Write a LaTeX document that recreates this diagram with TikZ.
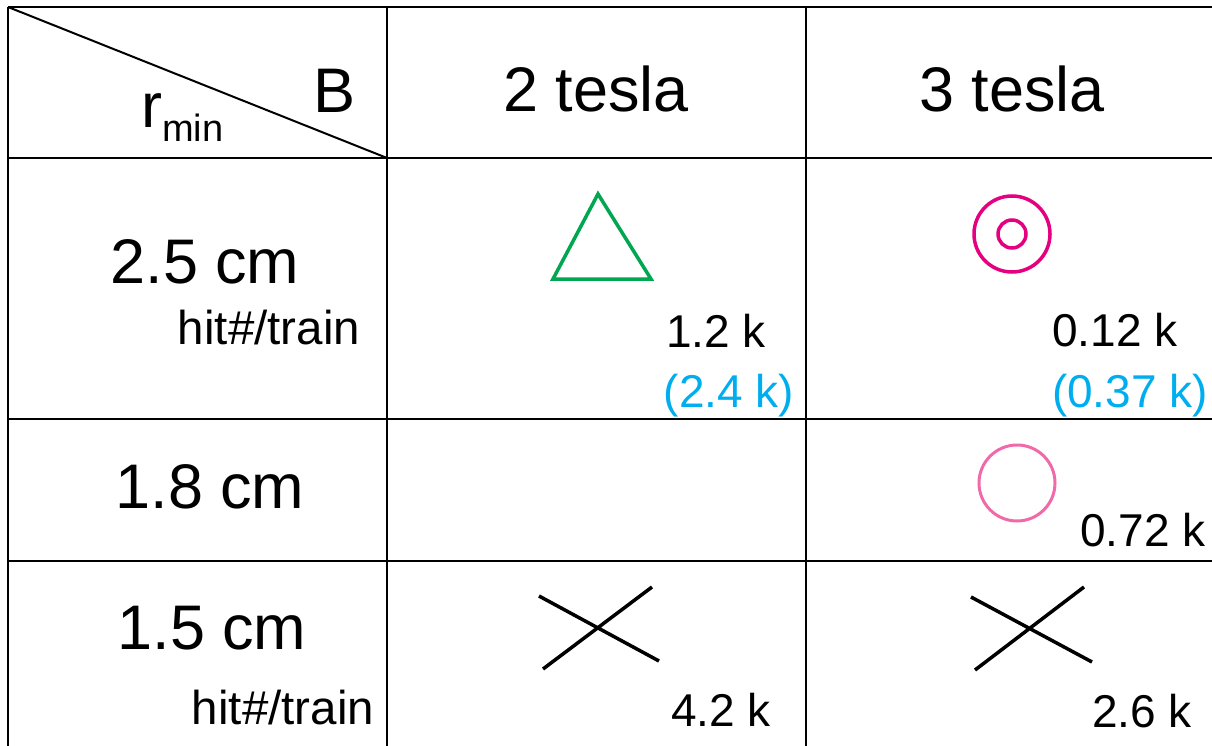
\documentclass[tikz,border=0pt]{standalone}
\usepackage{fontspec}
\setmainfont{Liberation Sans}
\usepackage{xcolor}
\usepackage{tikz}
\usetikzlibrary{
    positioning,
    calc
}
\definecolor{markgreen}{HTML}{00A650}
\definecolor{markmagenta}{HTML}{E4007F}
\definecolor{markpink}{HTML}{F06AAA}
\definecolor{numcyan}{HTML}{00AEEF}
\tikzset{
    gridline/.style={
        draw=black, line width=2.5pt
    },
    bigtext/.style={
        anchor=base, inner sep=0pt,
        font=\fontsize{63}{70}\selectfont
    },
    smalltext/.style={
        anchor=base, inner sep=0pt,
        font=\fontsize{46}{52}\selectfont
    },
    marker/.style={
        line width=3.5pt, line join=miter
    }
}

\begin{document}
\begin{tikzpicture}[
    x=1pt, y=-1pt,
    countlabel/.style={smalltext, text=black},
    altlabel/.style={smalltext, text=numcyan},
    hitlabel/.style={smalltext, font=\fontsize{47.5}{52}\selectfont}
]
    \useasboundingbox (0,0) rectangle (1212,746);

    % --- GRID ---
    \coordinate (tl) at (8,7);
    \coordinate (hdr) at (387,158);
    \draw[gridline] (8,7) -- (1212,7);
    \draw[gridline] (8,158) -- (1212,158);
    \draw[gridline] (8,419) -- (1212,419);
    \draw[gridline] (8,561) -- (1212,561);
    \draw[gridline] (8,7) -- (8,746);
    \draw[gridline] (387,7) -- (387,746);
    \draw[gridline] (806,7) -- (806,746);
    \draw[line width=2pt] (tl) -- (hdr);

    % --- HEADER ---
    \node[bigtext] (field) at (335,113) {B};
    \node[bigtext, anchor=base west] (radius) at (141,128)
        {r\raisebox{-14pt}{\fontsize{38}{42}\selectfont min}};
    \node[bigtext] (two_t) at (596,112) {2 tesla};
    \node[bigtext] (three_t) at (1012,112) {3 tesla};

    % --- ROW LABELS ---
    \node[bigtext] (r25) at (205,283) {2.5 cm};
    \node[hitlabel] (hits_a) at (269,344) {hit\#/train};
    \node[bigtext] (r18) at (210,508) {1.8 cm};
    \node[bigtext] (r15) at (212,649) {1.5 cm};
    \node[hitlabel] (hits_b) at (283,724) {hit\#/train};

    % --- MARKERS ---
    \draw[marker, draw=markgreen] (553,279) -- (651,279) -- (598,194) -- cycle;
    \draw[marker, draw=markmagenta] (1012,234) circle (38) (1012,234) circle (14);
    \draw[marker, draw=markpink, line width=3pt] (1017,483) circle (38);
    \draw[marker] (539,596) -- (659,661) (543,669) -- (652,587);
    \draw[marker] (971,597) -- (1092,662) (975,670) -- (1084,587);

    % --- COUNTS ---
    \node[countlabel] (c_a) at (716,347) {1.2 k};
    \node[altlabel] (c_a_alt) at (729,407) {(2.4 k)};
    \node[countlabel] (c_b) at (1115,346) {0.12 k};
    \node[altlabel] (c_b_alt) at (1130,407) {(0.37 k)};
    \node[countlabel] (c_c) at (1143,546) {0.72 k};
    \node[countlabel] (c_d) at (721,726) {4.2 k};
    \node[countlabel] (c_e) at (1142,727) {2.6 k};

\end{tikzpicture}
\end{document}
